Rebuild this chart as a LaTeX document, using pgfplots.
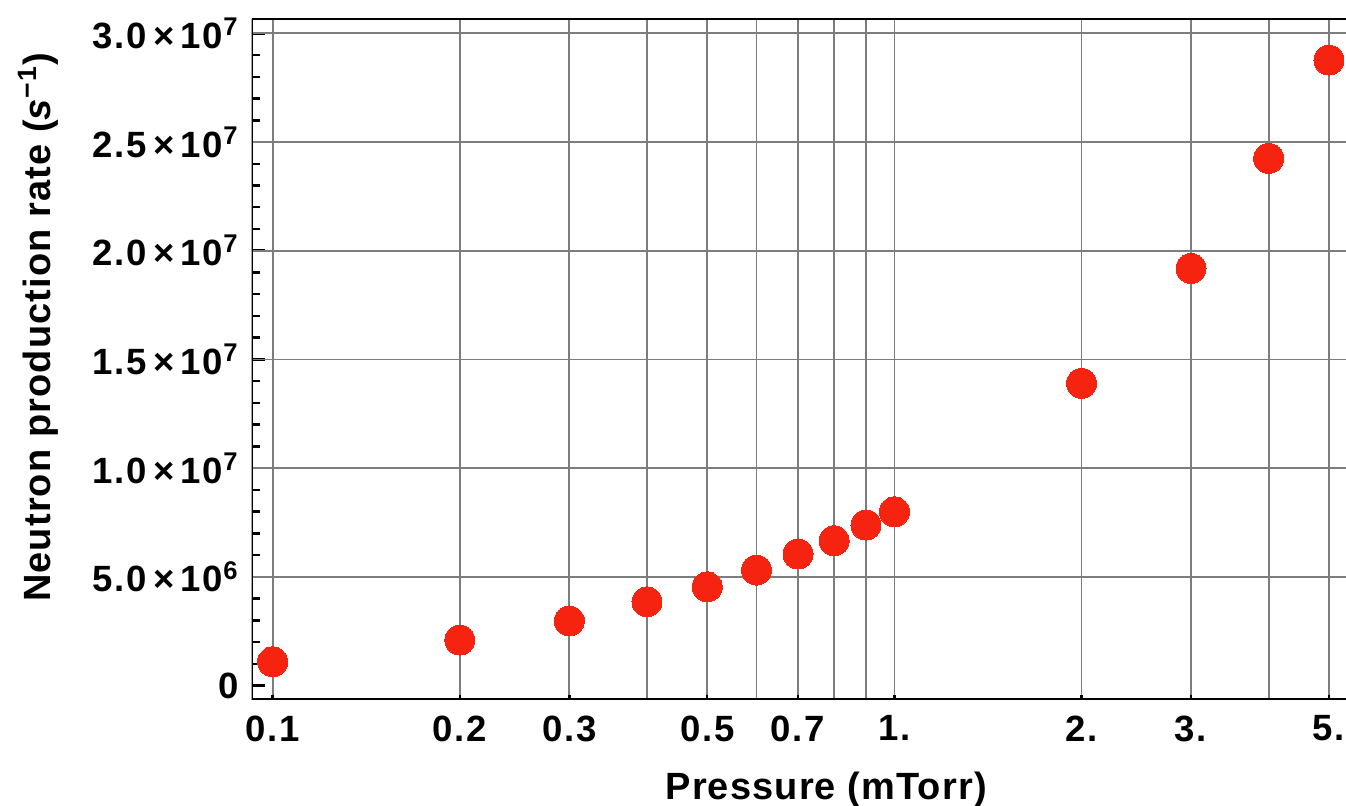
\documentclass[border=0pt]{standalone}
\usepackage{fontspec}
\setmainfont{Liberation Sans}
\newfontfamily\tickfont{Liberation Sans}[LetterSpace=5]
\newfontfamily\labelfont{Liberation Sans}[LetterSpace=3]
\usepackage{pgfplots}
\pgfplotsset{compat=1.18}
\definecolor{dotred}{RGB}{245,35,15}
\definecolor{gridgray}{RGB}{125,125,125}
\newcommand{\sci}[2]{#1\,×\,10\textsuperscript{#2}}

\begin{document}
\begin{tikzpicture}
\begin{axis}[
  scale only axis,
  width=109.43mm, height=68.03mm,
  xmode=log,
  xmin=0.09252, xmax=5.326,
  ymin=-6.35e5, ymax=3.066e7,
  axis line style={draw=none},
  xtick={0.1,0.2,0.3,0.5,0.7,1,2,3,5},
  xticklabels={0.1,0.2,0.3,0.5,0.7,1.,2.,3.,5.},
  minor xtick={0.4,0.6,0.8,0.9,4},
  xmajorgrids, xminorgrids,
  major grid style={gridgray, line width=0.5pt},
  minor grid style={gridgray, line width=0.5pt},
  ytick={0,5e6,1e7,1.5e7,2e7,2.5e7,3e7},
  yticklabels={0,\sci{5.0}{6},\sci{1.0}{7},\sci{1.5}{7},\sci{2.0}{7},\sci{2.5}{7},\sci{3.0}{7}},
  minor ytick={1e6,2e6,3e6,4e6,6e6,7e6,8e6,9e6,11e6,12e6,13e6,14e6,16e6,17e6,18e6,19e6,21e6,22e6,23e6,24e6,26e6,27e6,28e6,29e6},
  extra y ticks={5e6,1e7,1.5e7,2e7,2.5e7,3e7},
  extra y tick labels={},
  extra y tick style={grid=major, major tick length=0pt},
  scaled y ticks=false,
  xtick pos=bottom, ytick pos=left,
  tick align=inside,
  major tick length=1.3mm,
  minor tick length=0.8mm,
  tick style={black, line width=0.7pt},
  minor x tick style={draw=none},
  major x tick style={/pgfplots/major tick length=0.4mm},
  tick label style={font=\tickfont\fontsize{10.4pt}{12pt}\selectfont\bfseries},
  xticklabel style={inner sep=0pt, anchor=north, yshift=-1.57mm},
  yticklabel style={inner sep=0pt, anchor=east, xshift=-1.17mm},
  label style={font=\labelfont\fontsize{10.8pt}{13pt}\selectfont\bfseries},
  xlabel={Pressure (mTorr)},
  xlabel style={at={(rel axis cs:0.525,0)}, anchor=base, yshift=-9.97mm, inner sep=0pt},
  ylabel={Neutron production rate (\textit{s}\textsuperscript{−1})},
  ylabel style={at={(rel axis cs:-0.1843,0.547)}, anchor=base, inner sep=0pt},
]
\draw[black, line width=0.75pt] (rel axis cs:0,1) -- (rel axis cs:0,0) -- (rel axis cs:1,0);
\draw[black, line width=0.75pt] (rel axis cs:0,1) -- (rel axis cs:1,1);
\addplot[only marks, mark=*, mark size=1.5mm, mark options={fill=dotred, draw=dotred, line width=0pt}]
  coordinates {
    (0.1, 1.09e6)
    (0.2, 2.09e6)
    (0.3, 2.97e6)
    (0.4, 3.85e6)
    (0.5, 4.54e6)
    (0.6, 5.31e6)
    (0.7, 6.05e6)
    (0.8, 6.66e6)
    (0.9, 7.38e6)
    (1.0, 7.99e6)
    (2.0, 1.390e7)
    (3.0, 1.919e7)
    (4.0, 2.425e7)
    (5.0, 2.877e7)
  };
\end{axis}
\pgfresetboundingbox
\path[use as bounding box] ([xshift=-25.17mm, yshift=-10.67mm]current axis.south west) rectangle ([yshift=1.9mm]current axis.north east);
\end{tikzpicture}
\end{document}
